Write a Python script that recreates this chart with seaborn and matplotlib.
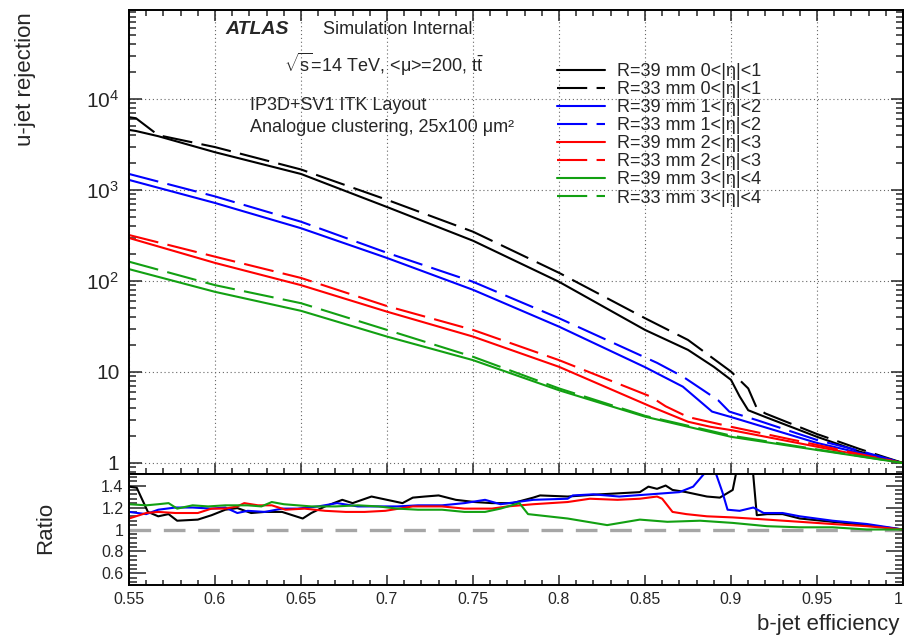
import matplotlib
matplotlib.use("Agg")
import matplotlib.pyplot as plt
from matplotlib.ticker import FixedLocator, FixedFormatter, MultipleLocator, LogLocator, NullFormatter
import seaborn as sns

# ---------------- b-tagging performance: u-jet rejection vs b-jet efficiency ----------------
# |eta| < 1
eff_eta01_r39 = [0.55, 0.554, 0.567, 0.60, 0.65, 0.70, 0.75, 0.80, 0.85, 0.875, 0.89, 0.90, 0.905, 0.91, 0.92, 0.95, 0.975, 1.0]
rej_eta01_r39 = [4570, 4450, 3900, 2600, 1500, 650, 277, 98, 29, 17.5, 11.4, 8.2, 5.4, 3.8, 3.2, 1.94, 1.33, 1.0]
eff_eta01_r33 = [0.55, 0.554, 0.567, 0.60, 0.65, 0.70, 0.75, 0.80, 0.85, 0.875, 0.90, 0.91, 0.915, 0.92, 0.95, 0.975, 1.0]
rej_eta01_r33 = [6300, 6150, 4000, 2960, 1680, 780, 348, 123, 39, 22.5, 10.1, 6.6, 4.0, 3.5, 2.08, 1.42, 1.0]

# 1 < |eta| < 2
eff_eta12_r39 = [0.55, 0.60, 0.65, 0.70, 0.75, 0.80, 0.85, 0.872, 0.889, 0.90, 0.95, 0.975, 1.0]
rej_eta12_r39 = [1290, 720, 380, 179, 80, 31.5, 11.3, 6.9, 3.67, 3.2, 1.66, 1.29, 1.0]
eff_eta12_r33 = [0.55, 0.60, 0.65, 0.70, 0.75, 0.80, 0.857, 0.872, 0.8925, 0.899, 0.915, 0.95, 0.975, 1.0]
rej_eta12_r33 = [1500, 850, 448, 204, 98, 39, 12.6, 8.9, 4.9, 3.67, 2.96, 1.79, 1.36, 1.0]

# 2 < |eta| < 3
eff_eta23_r39 = [0.55, 0.60, 0.65, 0.70, 0.75, 0.80, 0.853, 0.875, 0.888, 0.90, 0.95, 0.975, 1.0]
rej_eta23_r39 = [297, 158, 90, 46, 24.5, 11.4, 4.2, 2.84, 2.5, 2.3, 1.51, 1.22, 1.0]
eff_eta23_r33 = [0.55, 0.60, 0.65, 0.70, 0.75, 0.80, 0.853, 0.862, 0.875, 0.90, 0.95, 0.975, 1.0]
rej_eta23_r33 = [320, 185, 108, 53, 29, 13.5, 5.4, 4.2, 3.2, 2.5, 1.58, 1.25, 1.0]

# 3 < |eta| < 4
eff_eta34 = [0.55, 0.60, 0.65, 0.70, 0.75, 0.80, 0.85, 0.90, 0.95, 0.975, 1.0]
rej_eta34_r39 = [135, 76, 47, 24.5, 13.5, 6.3, 3.23, 1.94, 1.39, 1.18, 1.0]
rej_eta34_r33 = [163, 90, 57, 29, 14.7, 6.6, 3.3, 2.0, 1.41, 1.19, 1.0]

# ---------------- ratio R=33 / R=39 ----------------
ratio_eff_eta01 = [0.55, 0.5545, 0.561, 0.567, 0.573, 0.578, 0.59, 0.598, 0.606, 0.613, 0.621, 0.629,
                   0.639, 0.645, 0.651, 0.656, 0.664, 0.674, 0.680, 0.691, 0.700, 0.709, 0.715, 0.722,
                   0.730, 0.740, 0.751, 0.761, 0.773, 0.785, 0.789, 0.805, 0.824, 0.847, 0.852, 0.857,
                   0.862, 0.866, 0.874, 0.886, 0.8935, 0.901, 0.906, 0.9115, 0.915, 0.921, 0.930, 0.940,
                   0.959, 0.979, 1.0]
ratio_eta01 = [1.39, 1.38, 1.16, 1.12, 1.14, 1.08, 1.09, 1.13, 1.18, 1.195, 1.15, 1.16,
               1.16, 1.13, 1.10, 1.15, 1.21, 1.27, 1.24, 1.30, 1.27, 1.24, 1.29, 1.30,
               1.31, 1.27, 1.25, 1.24, 1.24, 1.29, 1.31, 1.30, 1.32, 1.34, 1.39, 1.37,
               1.40, 1.36, 1.34, 1.30, 1.29, 1.36, 1.75, 1.75, 1.13, 1.14, 1.14, 1.10,
               1.07, 1.04, 1.0]

ratio_eff_eta12 = [0.55, 0.560, 0.567, 0.577, 0.587, 0.598, 0.606, 0.613, 0.619, 0.629, 0.639, 0.648,
                   0.660, 0.671, 0.683, 0.695, 0.706, 0.718, 0.732, 0.745, 0.757, 0.766, 0.785, 0.805,
                   0.808, 0.820, 0.835, 0.853, 0.870, 0.878, 0.884, 0.888, 0.891, 0.895, 0.898, 0.905,
                   0.913, 0.919, 0.930, 0.940, 0.959, 0.979, 1.0]
ratio_eta12 = [1.16, 1.14, 1.18, 1.20, 1.20, 1.19, 1.20, 1.15, 1.17, 1.16, 1.19, 1.19,
               1.21, 1.24, 1.21, 1.21, 1.21, 1.22, 1.22, 1.24, 1.27, 1.23, 1.27, 1.28,
               1.31, 1.32, 1.30, 1.32, 1.34, 1.39, 1.50, 1.55, 1.52, 1.34, 1.18, 1.17,
               1.20, 1.15, 1.15, 1.12, 1.08, 1.05, 1.0]

ratio_eff_eta23 = [0.55, 0.560, 0.567, 0.577, 0.590, 0.598, 0.606, 0.613, 0.617, 0.625, 0.633, 0.641,
                   0.652, 0.664, 0.676, 0.687, 0.699, 0.715, 0.732, 0.745, 0.761, 0.770, 0.785, 0.805,
                   0.818, 0.834, 0.847, 0.857, 0.860, 0.866, 0.874, 0.886, 0.901, 0.921, 0.940, 0.959,
                   0.979, 1.0]
ratio_eta23 = [1.10, 1.15, 1.16, 1.15, 1.15, 1.19, 1.19, 1.21, 1.24, 1.22, 1.22, 1.18,
               1.19, 1.17, 1.16, 1.16, 1.17, 1.21, 1.21, 1.19, 1.19, 1.21, 1.23, 1.25,
               1.28, 1.27, 1.28, 1.30, 1.28, 1.16, 1.14, 1.12, 1.11, 1.09, 1.07, 1.05,
               1.03, 1.0]

ratio_eff_eta34 = [0.55, 0.560, 0.567, 0.573, 0.578, 0.587, 0.596, 0.606, 0.619, 0.627, 0.633, 0.640,
                   0.648, 0.656, 0.670, 0.683, 0.695, 0.706, 0.718, 0.732, 0.745, 0.757, 0.766, 0.777,
                   0.782, 0.805, 0.828, 0.847, 0.863, 0.882, 0.901, 0.921, 0.940, 0.959, 0.979, 1.0]
ratio_eta34 = [1.23, 1.22, 1.23, 1.24, 1.19, 1.22, 1.21, 1.22, 1.22, 1.21, 1.25, 1.23,
               1.22, 1.21, 1.21, 1.22, 1.21, 1.19, 1.18, 1.18, 1.16, 1.16, 1.19, 1.24,
               1.14, 1.10, 1.04, 1.09, 1.07, 1.08, 1.06, 1.03, 1.02, 1.02, 1.0, 1.0]

# ---------------- labels ----------------
eta_bins = ["0<|η|<1", "1<|η|<2", "2<|η|<3", "3<|η|<4"]
radii = ["R=39 mm", "R=33 mm"]
colors = ["#000000", "#0000ff", "#ff0000", "#12a012"]

xtick_vals = [0.55, 0.60, 0.65, 0.70, 0.75, 0.80, 0.85, 0.90, 0.95, 1.00]
xtick_labels = ["0.55", "0.6", "0.65", "0.7", "0.75", "0.8", "0.85", "0.9", "0.95", "1"]
main_ytick_vals = [1, 10, 100, 1000, 10000]
main_ytick_labels = ["1", "10", r"$10^{2}$", r"$10^{3}$", r"$10^{4}$"]
ratio_ytick_vals = [0.6, 0.8, 1.0, 1.2, 1.4]
ratio_ytick_labels = ["0.6", "0.8", "1", "1.2", "1.4"]

# ---------------- style ----------------
sns.set_style("ticks")
plt.rcParams["font.family"] = ["Liberation Sans", "DejaVu Sans"]
plt.rcParams["mathtext.fontset"] = "custom"
plt.rcParams["mathtext.rm"] = "Liberation Sans"
plt.rcParams["mathtext.it"] = "Liberation Sans:italic"
plt.rcParams["mathtext.bf"] = "Liberation Sans:bold"

W, H = 905, 638
fig = plt.figure(figsize=(W / 100, H / 100), dpi=100)
fig.patch.set_facecolor("white")


def fx(px):
    return px / W


def fy(py):
    return 1 - py / H


ax = fig.add_axes([fx(129), fy(474), (903 - 129) / W, (474 - 10) / H])
axr = fig.add_axes([fx(129), fy(585), (903 - 129) / W, (585 - 474) / H])

LW = 1.5
DASH = (0, (14.5, 4.5))

curves = [
    (eff_eta01_r39, rej_eta01_r39, eff_eta01_r33, rej_eta01_r33),
    (eff_eta12_r39, rej_eta12_r39, eff_eta12_r33, rej_eta12_r33),
    (eff_eta23_r39, rej_eta23_r39, eff_eta23_r33, rej_eta23_r33),
    (eff_eta34, rej_eta34_r39, eff_eta34, rej_eta34_r33),
]

for (x39, y39, x33, y33), col, eta in zip(curves, colors, eta_bins):
    sns.lineplot(x=x39, y=y39, ax=ax, color=col, linewidth=LW, estimator=None, sort=False,
                 label=f"{radii[0]} {eta}")
    sns.lineplot(x=x33, y=y33, ax=ax, color=col, linewidth=LW, linestyle=DASH, estimator=None,
                 sort=False, label=f"{radii[1]} {eta}")

ax.set_yscale("log")
ax.set_xlim(0.55, 1.0)
ax.set_ylim(0.757, 9.5e4)
ax.xaxis.set_major_locator(FixedLocator(xtick_vals))
ax.xaxis.set_minor_locator(MultipleLocator(0.01))
ax.set_xticklabels([])
ax.yaxis.set_major_locator(FixedLocator(main_ytick_vals))
ax.yaxis.set_major_formatter(FixedFormatter(main_ytick_labels))
ax.yaxis.set_minor_locator(LogLocator(base=10, subs=range(2, 10), numticks=20))
ax.yaxis.set_minor_formatter(NullFormatter())
ax.grid(True, which="major", linestyle=(0, (1, 2.5)), color="#666666", linewidth=0.8)
ax.tick_params(axis="both", which="both", direction="in", top=True, right=True, width=1.1)
ax.tick_params(axis="x", which="major", length=8)
ax.tick_params(axis="x", which="minor", length=4)
ax.tick_params(axis="y", which="major", length=9, labelsize=15, pad=7)
ax.tick_params(axis="y", which="minor", length=5)
ax.set_xlabel("")
ax.set_ylabel("")

handles, labels = ax.get_legend_handles_labels()
ax.legend(handles, labels, loc="upper left", bbox_to_anchor=(fx(557), fy(63)),
          bbox_transform=fig.transFigure, frameon=False, fontsize=13,
          handlelength=2.66, handletextpad=0.66, labelspacing=0.06,
          borderpad=0, borderaxespad=0)

# ratio panel
ratio_sets = [
    (ratio_eff_eta01, ratio_eta01),
    (ratio_eff_eta12, ratio_eta12),
    (ratio_eff_eta23, ratio_eta23),
    (ratio_eff_eta34, ratio_eta34),
]
axr.axhline(1.0, color="#a6a6a6", linewidth=2.4, linestyle=(0, (6.5, 3.8)), zorder=1)
for (rx, ry), col in zip(ratio_sets, colors):
    sns.lineplot(x=rx, y=ry, ax=axr, color=col, linewidth=LW, estimator=None, sort=False,
                 legend=False)

axr.set_xlim(0.55, 1.0)
axr.set_ylim(0.495, 1.505)
axr.xaxis.set_major_locator(FixedLocator(xtick_vals))
axr.xaxis.set_major_formatter(FixedFormatter(xtick_labels))
axr.xaxis.set_minor_locator(MultipleLocator(0.01))
axr.yaxis.set_major_locator(FixedLocator(ratio_ytick_vals))
axr.yaxis.set_major_formatter(FixedFormatter(ratio_ytick_labels))
axr.yaxis.set_minor_locator(MultipleLocator(0.04))
axr.tick_params(axis="both", which="both", direction="in", top=False, right=True, width=1.1)
axr.tick_params(axis="x", which="major", length=7, labelsize=11.5, pad=5)
axr.tick_params(axis="x", which="minor", length=3.5)
axr.tick_params(axis="y", which="major", length=12, labelsize=11.5, pad=4)
axr.tick_params(axis="y", which="minor", length=6)
axr.set_xlabel("")
axr.set_ylabel("")

# keep the last efficiency label inside the canvas
fig.canvas.draw()
axr.get_xticklabels()[-1].set_horizontalalignment("right")

for a in (ax, axr):
    for sp in a.spines.values():
        sp.set_linewidth(1.4)
        sp.set_color("black")

# axis titles
fig.text(fx(25.5), fy(12), "u-jet rejection", rotation=90, ha="center", va="top", fontsize=16)
fig.text(fx(46), fy(528), "Ratio", rotation=90, ha="center", va="center", fontsize=16)
fig.text(fx(899), fy(630), "b-jet efficiency", ha="right", va="baseline", fontsize=16)

# annotations
fig.text(fx(225), fy(34), "ATLAS", fontsize=14, fontweight="bold", fontstyle="italic", va="baseline")
fig.text(fx(323), fy(34), "Simulation Internal", fontsize=13, va="baseline")
fig.text(fx(284), fy(72), r"$\sqrt{\mathrm{s}}$=14 TeV, <μ>=200, $\mathrm{t\bar{t}}$", fontsize=13, va="baseline")
fig.text(fx(250), fy(110), "IP3D+SV1 ITK Layout", fontsize=13, va="baseline")
fig.text(fx(250), fy(132), "Analogue clustering, 25x100 μm²", fontsize=13, va="baseline")

fig.savefig("out.png", dpi=100)
